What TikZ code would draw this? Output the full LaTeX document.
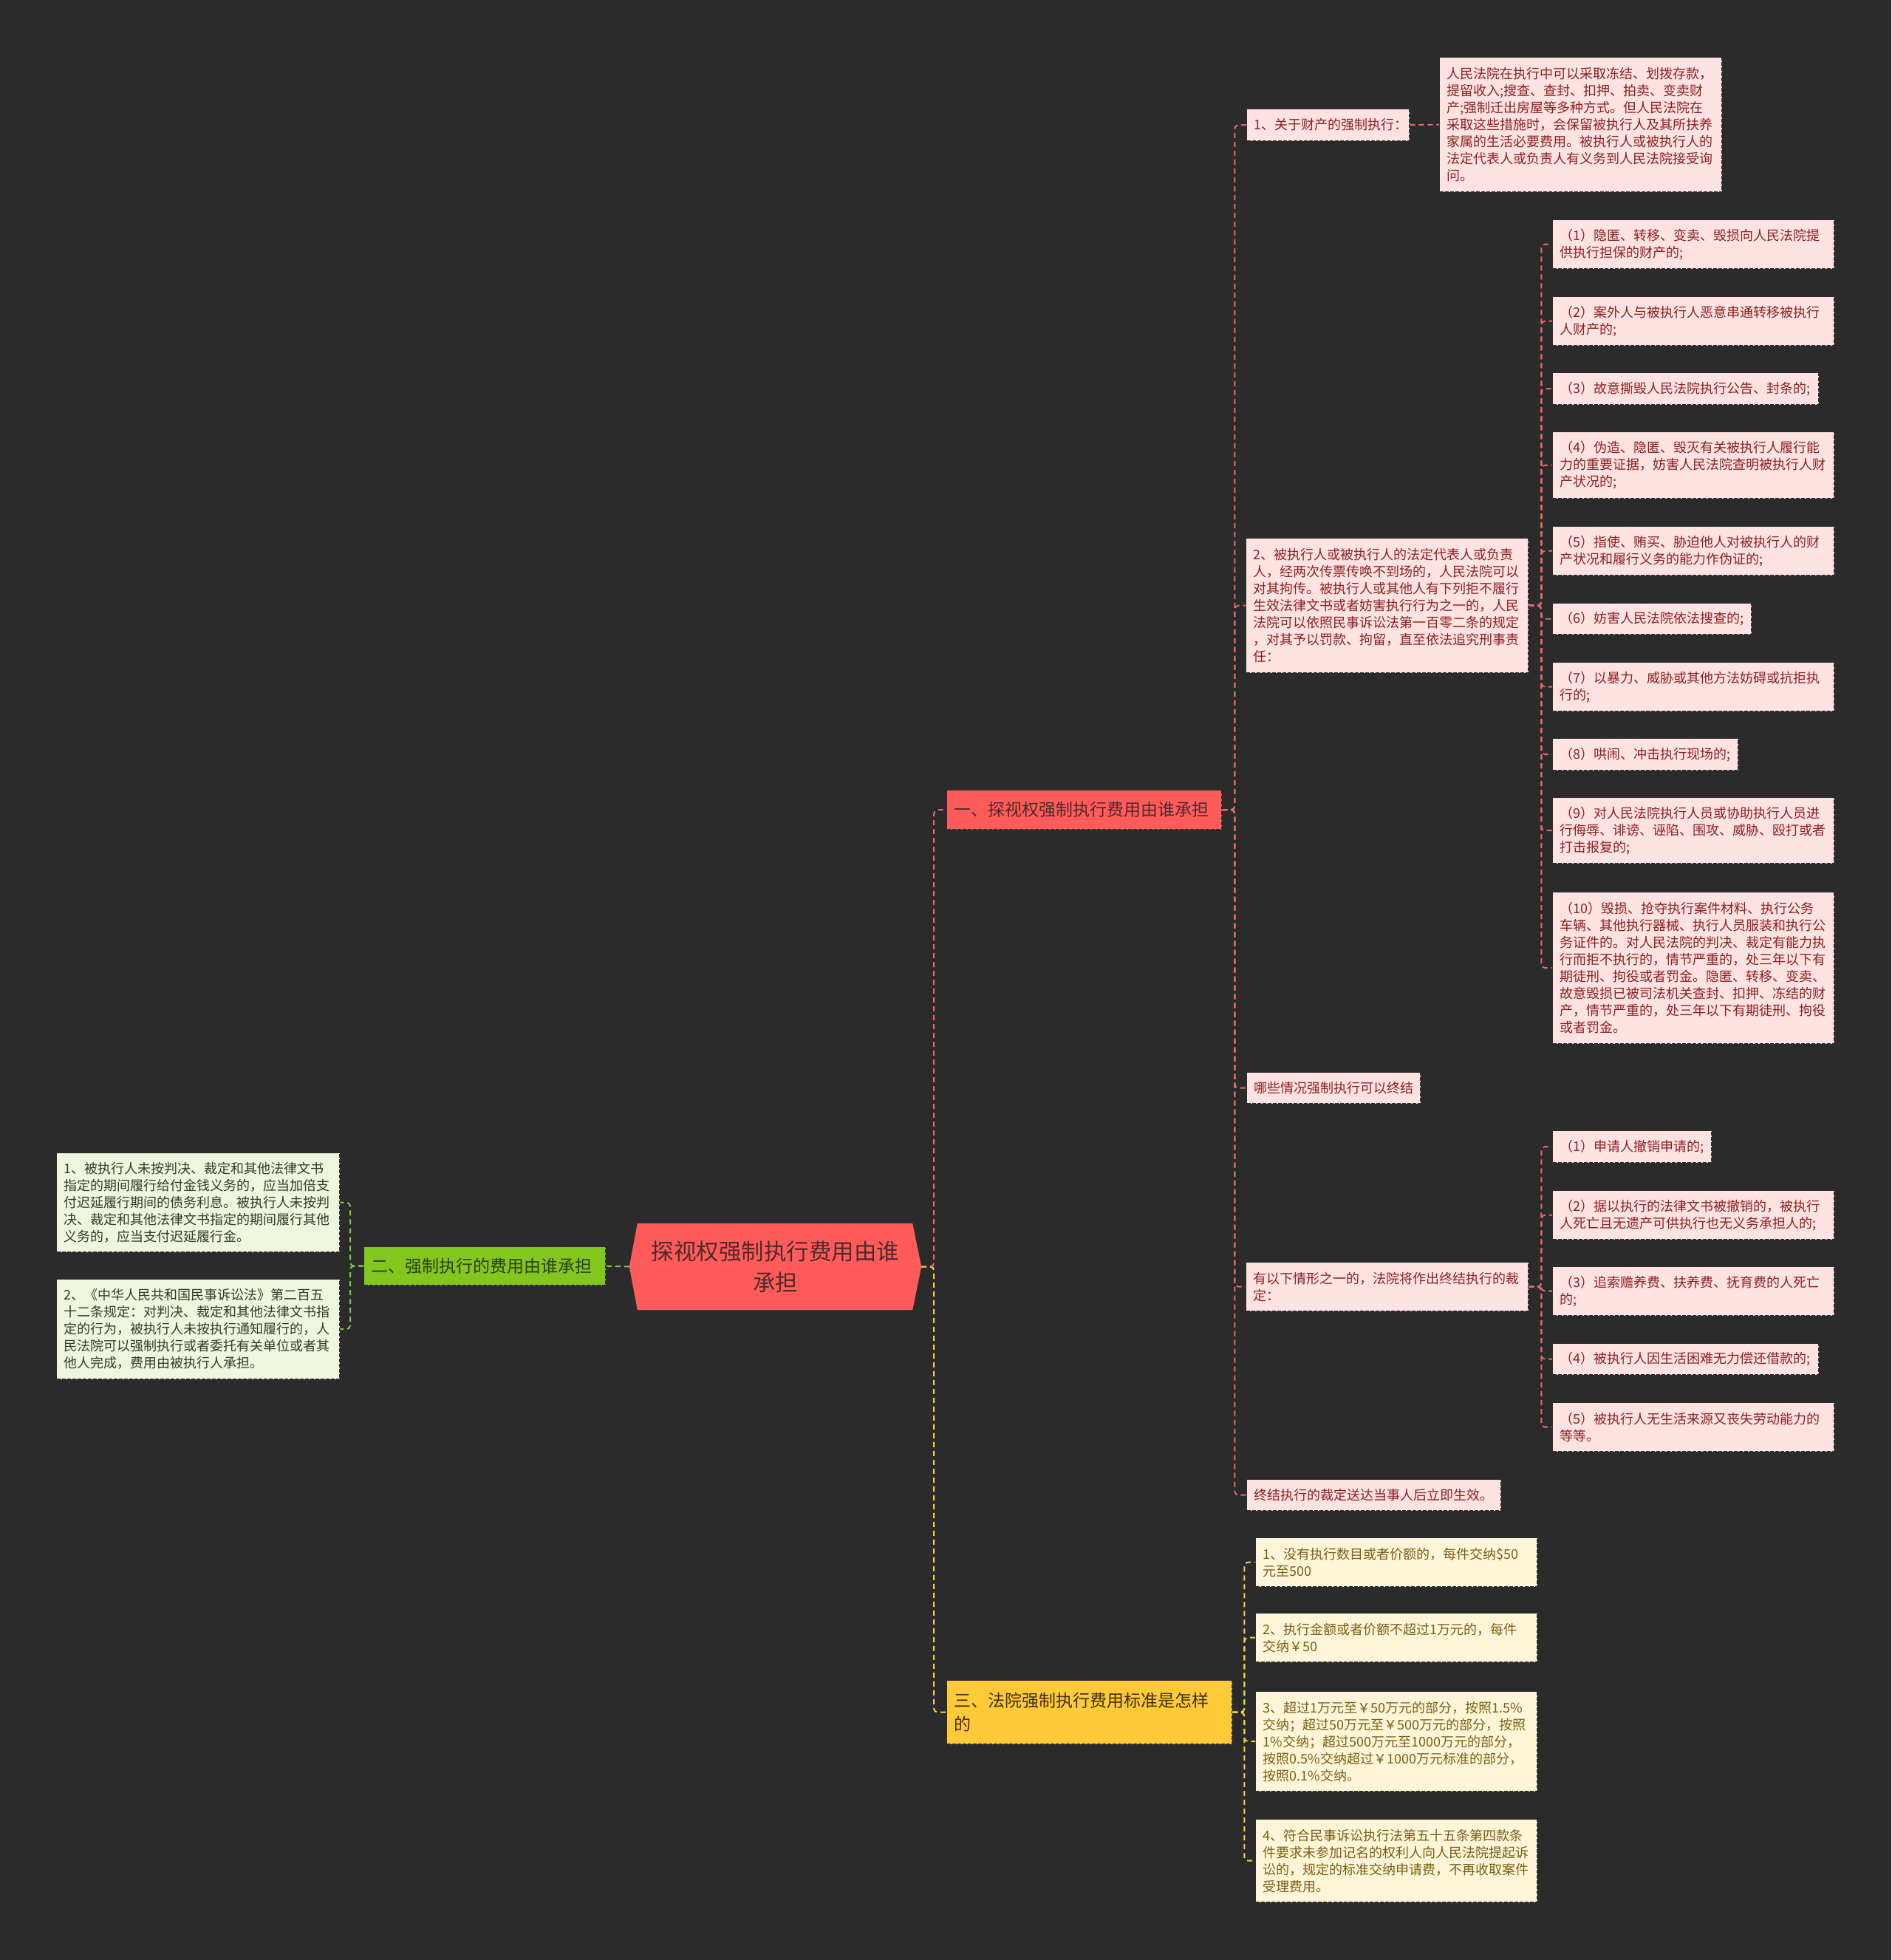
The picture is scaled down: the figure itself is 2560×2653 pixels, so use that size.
\documentclass[tikz,border=0pt]{standalone}
\usepackage{fontspec}
\setmainfont{Noto Sans CJK SC}
\usetikzlibrary{backgrounds}
\definecolor{bgcol}{HTML}{2B2B2B}
\definecolor{boxline}{HTML}{2E2E2E}
\definecolor{pinkfill}{HTML}{FFE3E3}
\definecolor{pinktext}{HTML}{8E1F1F}
\definecolor{redfill}{HTML}{FF5B5B}
\definecolor{redtext}{HTML}{4D2A2A}
\definecolor{redconn}{HTML}{E86A6A}
\definecolor{greenfill}{HTML}{82C61E}
\definecolor{greentext}{HTML}{2F3F12}
\definecolor{greenleaf}{HTML}{EEF6DD}
\definecolor{greenleaftext}{HTML}{333A2A}
\definecolor{greenconn}{HTML}{8BC34A}
\definecolor{yellowfill}{HTML}{FFC938}
\definecolor{yellowtext}{HTML}{3D3010}
\definecolor{yellowleaf}{HTML}{FFF5D8}
\definecolor{yellowleaftext}{HTML}{7A5E14}
\definecolor{yellowconn}{HTML}{F2D04A}
\newcommand\fsmall{\fontsize{18pt}{23pt}\selectfont}
\newcommand\fmid{\fontsize{23pt}{32pt}\selectfont}
\newcommand\fbig{\fontsize{30.5pt}{42pt}\selectfont}
\tikzset{
  boxbase/.style={draw=boxline, dash pattern=on 5pt off 2pt, line width=1.3pt, anchor=north west, inner xsep=10pt, inner ysep=0pt, align=left},
  pinkbox/.style={boxbase, fill=pinkfill, text=pinktext, font=\fsmall},
  greenbox/.style={boxbase, fill=greenleaf, text=greenleaftext, font=\fsmall},
  yellowbox/.style={boxbase, fill=yellowleaf, text=yellowleaftext, font=\fsmall},
  branchred/.style={boxbase, fill=redfill, text=redtext, font=\fmid},
  branchgreen/.style={boxbase, fill=greenfill, text=greentext, font=\fmid},
  branchyellow/.style={boxbase, fill=yellowfill, text=yellowtext, font=\fmid},
  rootnode/.style={inner sep=0pt, minimum width=395pt, minimum height=117pt, text width=350pt, align=center, text=redtext, font=\fbig},
  conn/.style={line width=2pt, dash pattern=on 7pt off 5pt, rounded corners=5pt},
  redline/.style={conn, draw=redconn},
  greenline/.style={conn, draw=greenconn},
  yellowline/.style={conn, draw=yellowconn}
}
\begin{document}
\begin{tikzpicture}[x=1pt,y=-1pt]
\begin{pgfonlayer}{background}
\fill[bgcol] (0,0) rectangle (2560,2653);
\end{pgfonlayer}
\useasboundingbox (0,0) rectangle (2560,2653);

% root
\node[rootnode] (root) at (1049.5,1714.5) {探视权强制执行费用由谁\\承担};
\begin{pgfonlayer}{background}
\fill[redfill] (root.west) -- ([xshift=11pt]root.north west) -- ([xshift=-12pt]root.north east) -- (root.east) -- ([xshift=-12pt]root.south east) -- ([xshift=11pt]root.south west) -- cycle;
\end{pgfonlayer}

% branches
\node[branchred, text width=352pt, minimum height=53pt] (b1) at (1281,1069) {一、探视权强制执行费用由谁承担};
\node[branchgreen, text width=307pt, minimum height=52pt] (b2) at (492,1687) {二、强制执行的费用由谁承担};
\node[branchyellow, text width=366pt, minimum height=86pt] (b3) at (1281,2274) {三、法院强制执行费用标准是怎样\\的};

% branch 1 children
\node[pinkbox, text width=200pt, minimum height=43pt] (n11) at (1687,147) {1、关于财产的强制执行：};
\node[pinkbox, text width=362pt, minimum height=182pt] (leaf11) at (1948,77) {人民法院在执行中可以采取冻结、划拨存款，\\提留收入;搜查、查封、扣押、拍卖、变卖财\\产;强制迁出房屋等多种方式。但人民法院在\\采取这些措施时，会保留被执行人及其所扶养\\家属的生活必要费用。被执行人或被执行人的\\法定代表人或负责人有义务到人民法院接受询\\问。};
\node[pinkbox, text width=362pt, minimum height=182pt] (n12) at (1686,728) {2、被执行人或被执行人的法定代表人或负责\\人，经两次传票传唤不到场的，人民法院可以\\对其拘传。被执行人或其他人有下列拒不履行\\生效法律文书或者妨害执行行为之一的，人民\\法院可以依照民事诉讼法第一百零二条的规定\\，对其予以罚款、拘留，直至依法追究刑事责\\任：};
\node[pinkbox, text width=215pt, minimum height=42pt] (n13) at (1687,1451) {哪些情况强制执行可以终结};
\node[pinkbox, text width=362pt, minimum height=66pt] (n14) at (1686,1708) {有以下情形之一的，法院将作出终结执行的裁\\定：};
\node[pinkbox, text width=324pt, minimum height=42pt] (n15) at (1687,2002) {终结执行的裁定送达当事人后立即生效。};

% children of n12
\node[pinkbox, text width=361pt, minimum height=66pt] (c1) at (2101,297) {（1）隐匿、转移、变卖、毁损向人民法院提\\供执行担保的财产的;};
\node[pinkbox, text width=361pt, minimum height=66pt] (c2) at (2101,401) {（2）案外人与被执行人恶意串通转移被执行\\人财产的;};
\node[pinkbox, text width=340pt, minimum height=43pt] (c3) at (2101,504) {（3）故意撕毁人民法院执行公告、封条的;};
\node[pinkbox, text width=361pt, minimum height=90pt] (c4) at (2101,584) {（4）伪造、隐匿、毁灭有关被执行人履行能\\力的重要证据，妨害人民法院查明被执行人财\\产状况的;};
\node[pinkbox, text width=361pt, minimum height=66pt] (c5) at (2101,712) {（5）指使、贿买、胁迫他人对被执行人的财\\产状况和履行义务的能力作伪证的;};
\node[pinkbox, text width=249pt, minimum height=42pt] (c6) at (2101,816) {（6）妨害人民法院依法搜查的;};
\node[pinkbox, text width=361pt, minimum height=66pt] (c7) at (2101,896) {（7）以暴力、威胁或其他方法妨碍或抗拒执\\行的;};
\node[pinkbox, text width=231pt, minimum height=43pt] (c8) at (2101,999) {（8）哄闹、冲击执行现场的;};
\node[pinkbox, text width=361pt, minimum height=89pt] (c9) at (2101,1079) {（9）对人民法院执行人员或协助执行人员进\\行侮辱、诽谤、诬陷、围攻、威胁、殴打或者\\打击报复的;};
\node[pinkbox, text width=361pt, minimum height=205pt] (c10) at (2101,1207) {（10）毁损、抢夺执行案件材料、执行公务\\车辆、其他执行器械、执行人员服装和执行公\\务证件的。对人民法院的判决、裁定有能力执\\行而拒不执行的，情节严重的，处三年以下有\\期徒刑、拘役或者罚金。隐匿、转移、变卖、\\故意毁损已被司法机关查封、扣押、冻结的财\\产，情节严重的，处三年以下有期徒刑、拘役\\或者罚金。};

% children of n14
\node[pinkbox, text width=195pt, minimum height=43pt] (d1) at (2101,1530) {（1）申请人撤销申请的;};
\node[pinkbox, text width=361pt, minimum height=66pt] (d2) at (2101,1611) {（2）据以执行的法律文书被撤销的，被执行\\人死亡且无遗产可供执行也无义务承担人的;};
\node[pinkbox, text width=361pt, minimum height=66pt] (d3) at (2101,1714) {（3）追索赡养费、扶养费、抚育费的人死亡\\的;};
\node[pinkbox, text width=340pt, minimum height=42pt] (d4) at (2101,1818) {（4）被执行人因生活困难无力偿还借款的;};
\node[pinkbox, text width=361pt, minimum height=66pt] (d5) at (2101,1898) {（5）被执行人无生活来源又丧失劳动能力的\\等等。};

% branch 2 children
\node[greenbox, text width=363pt, minimum height=134pt] (g1) at (76,1560) {1、被执行人未按判决、裁定和其他法律文书\\指定的期间履行给付金钱义务的，应当加倍支\\付迟延履行期间的债务利息。被执行人未按判\\决、裁定和其他法律文书指定的期间履行其他\\义务的，应当支付迟延履行金。};
\node[greenbox, text width=363pt, minimum height=135pt] (g2) at (76,1731) {2、《中华人民共和国民事诉讼法》第二百五\\十二条规定：对判决、裁定和其他法律文书指\\定的行为，被执行人未按执行通知履行的，人\\民法院可以强制执行或者委托有关单位或者其\\他人完成，费用由被执行人承担。};

% branch 3 children
\node[yellowbox, text width=361pt, minimum height=66pt] (y1) at (1699,2081) {1、没有执行数目或者价额的，每件交纳\$50\\元至500};
\node[yellowbox, text width=361pt, minimum height=66pt] (y2) at (1699,2183) {2、执行金额或者价额不超过1万元的，每件\\交纳￥50};
\node[yellowbox, text width=361pt, minimum height=135pt] (y3) at (1699,2289) {3、超过1万元至￥50万元的部分，按照1.5\%\\交纳；超过50万元至￥500万元的部分，按照\\1\%交纳；超过500万元至1000万元的部分，\\按照0.5\%交纳超过￥1000万元标准的部分，\\按照0.1\%交纳。};
\node[yellowbox, text width=361pt, minimum height=112pt] (y4) at (1699,2462) {4、符合民事诉讼执行法第五十五条第四款条\\件要求未参加记名的权利人向人民法院提起诉\\讼的，规定的标准交纳申请费，不再收取案件\\受理费用。};

% connectors
\draw[redline] (root.east) -- ++(17pt,0) |- (b1.west);
\draw[yellowline] (root.east) -- ++(17pt,0) |- (b3.west);
\draw[greenline] (root.west) -- (b2.east);

\foreach \t in {n11,n12,n13,n14,n15}
  \draw[redline] (b1.east) -- ++(17pt,0) |- (\t.west);
\draw[redline] (n11.east) -- (leaf11.west);
\foreach \t in {c1,c2,c3,c4,c5,c6,c7,c8,c9,c10}
  \draw[redline] (n12.east) -- ++(17pt,0) |- (\t.west);
\foreach \t in {d1,d2,d3,d4,d5}
  \draw[redline] (n14.east) -- ++(17pt,0) |- (\t.west);
\foreach \t in {g1,g2}
  \draw[greenline] (b2.west) -- ++(-18pt,0) |- (\t.east);
\foreach \t in {y1,y2,y3,y4}
  \draw[yellowline] (b3.east) -- ++(16pt,0) |- (\t.west);
\end{tikzpicture}
\end{document}
